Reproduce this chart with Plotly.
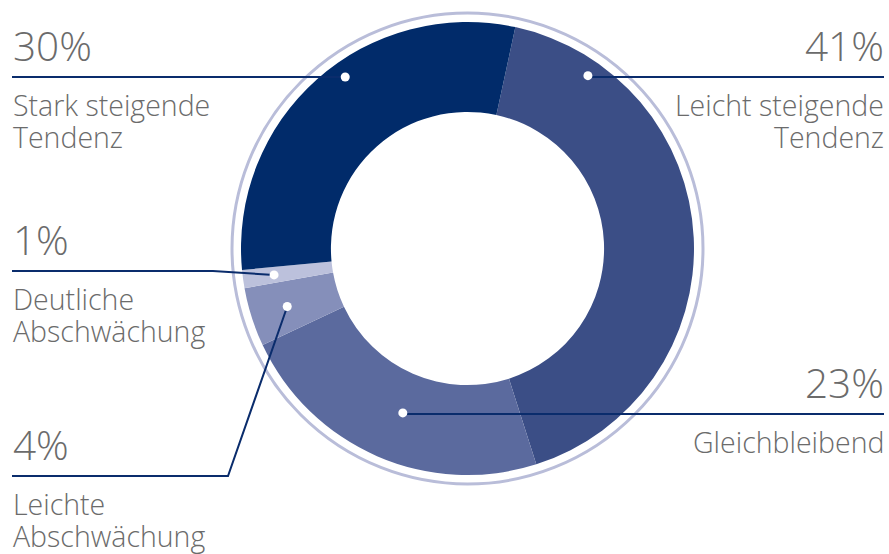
import math
import plotly.graph_objects as go

# ---- data (pie order, clockwise from the top) ----
labels = ["Leicht steigende Tendenz", "Gleichbleibend", "Leichte Abschwächung",
          "Deutliche Abschwächung", "Stark steigende Tendenz"]
values = [41.7, 22.9, 4.2, 1.3, 29.9]
pct_text = ["41%", "23%", "4%", "1%", "30%"]
label_lines = [["Leicht steigende", "Tendenz"], ["Gleichbleibend"], ["Leichte", "Abschwächung"],
               ["Deutliche", "Abschwächung"], ["Stark steigende", "Tendenz"]]
colors = ["#3b4e86", "#5b6a9e", "#858fba", "#bcc1dc", "#012b6a"]

# ---- layout constants (page pixels) ----
W, H = 889, 554
CX, CY, R = 467.5, 248.5, 226.5
HOLE = 0.603
ROTATION = 12.2
RING_R = 235.5
LINE_COLOR = "#0a2c6c"
TEXT_COLOR = "#6b6b6b"
FONT = "Open Sans"
PCT_SIZE = 40.5
LBL_SIZE = 28.5
LBL_STEP = 32
LEFT_X, RIGHT_X = 12, 884
TEXT_LEFT, TEXT_RIGHT = 10.5, 886

# callout style per slice: side, line y, elbow x (or None), dot position in slice (fraction), dot radius fraction
callouts = [
    dict(side="right", line_y=77, elbow=None, frac=0.151, rf=0.93),
    dict(side="right", line_y=414, elbow=None, frac=0.475, rf=0.78),
    dict(side="left", line_y=476, elbow=228, frac=0.49, rf=0.836),
    dict(side="left", line_y=271, elbow=213, frac=0.5, rf=0.862),
    dict(side="left", line_y=77, elbow=None, frac=0.557, rf=0.93),
]


def px(x):
    return x / W


def py(y):
    return 1 - y / H


fig = go.Figure(go.Pie(
    labels=labels, values=values, sort=False, direction="clockwise",
    rotation=ROTATION, hole=HOLE, textinfo="none", hoverinfo="label+percent",
    marker=dict(colors=colors, line=dict(width=0)),
    domain=dict(x=[px(CX - R), px(CX + R)], y=[py(CY + R), py(CY - R)]),
    showlegend=False,
))

shapes = []
annotations = []

# outer ring
shapes.append(dict(type="circle", xref="paper", yref="paper",
                   x0=px(CX - RING_R), x1=px(CX + RING_R), y0=py(CY + RING_R), y1=py(CY - RING_R),
                   line=dict(color="#b9bdd9", width=3), fillcolor="rgba(0,0,0,0)", layer="below"))

total = sum(values)
start = ROTATION
for i, v in enumerate(values):
    span = v / total * 360
    c = callouts[i]
    ang = math.radians(start + span * c["frac"])
    r = R * c["rf"]
    dx, dy = CX + r * math.sin(ang), CY - r * math.cos(ang)
    start += span

    ly = c["line_y"]
    if c["side"] == "right":
        tx, anchor = TEXT_RIGHT, "right"
        pts = [(dx, ly), (RIGHT_X, ly)]
    else:
        tx, anchor = TEXT_LEFT, "left"
        pts = [(LEFT_X, ly), (dx, ly)] if c["elbow"] is None else [(LEFT_X, ly), (c["elbow"], ly), (dx, dy)]
    path = "M " + " L ".join(f"{px(x)},{py(y)}" for x, y in pts)
    shapes.append(dict(type="path", xref="paper", yref="paper", path=path,
                       line=dict(color=LINE_COLOR, width=2)))
    dr = 4.5
    shapes.append(dict(type="circle", xref="paper", yref="paper",
                       x0=px(dx - dr), x1=px(dx + dr), y0=py(dy + dr), y1=py(dy - dr),
                       fillcolor="white", line=dict(width=0)))

    # percent text (baseline ~15px above line)
    annotations.append(dict(text=pct_text[i], xref="paper", yref="paper",
                            x=px(tx), y=py(ly - 15 + 1 + 0.29 * PCT_SIZE), xanchor=anchor, yanchor="bottom",
                            align=anchor, showarrow=False,
                            font=dict(family=FONT, size=PCT_SIZE, color=TEXT_COLOR, weight=300)))
    # category text lines (first baseline ~38px below line)
    for j, t in enumerate(label_lines[i]):
        base = ly + 38 + j * LBL_STEP
        annotations.append(dict(text=t, xref="paper", yref="paper",
                                x=px(tx), y=py(base - 1.07 * LBL_SIZE - 1), xanchor=anchor, yanchor="top",
                                align=anchor, showarrow=False,
                                font=dict(family=FONT, size=LBL_SIZE, color=TEXT_COLOR, weight=300)))

fig.update_layout(width=W, height=H, margin=dict(l=0, r=0, t=0, b=0),
                  paper_bgcolor="white", plot_bgcolor="white",
                  shapes=shapes, annotations=annotations)

fig.write_html("out.html", config={"displayModeBar": False},
               post_script="document.body.style.margin='0';document.body.style.overflow='hidden';")
